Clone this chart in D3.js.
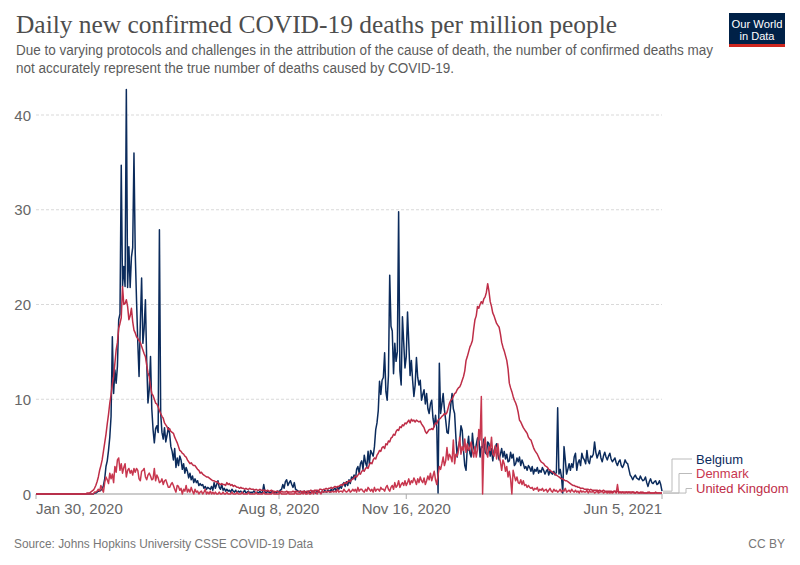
<!DOCTYPE html>
<html><head><meta charset="utf-8">
<script src="https://cdn.jsdelivr.net/npm/d3@7"></script>
<style>body{margin:0;background:#fff}svg{display:block}</style>
</head><body>
<svg id="chart" width="800" height="565"></svg>
<script>
// ---------- DATA ----------
const startDate = "2020-01-30"; // first day of every series, one value per day
const seriesNames = ["Belgium", "Denmark", "United Kingdom"];
const seriesColors = ["#0b2b5c", "#c8374f", "#be2d47"];
const yTicks = [0, 10, 20, 30, 40];
const xTickDates = ["2020-01-30", "2020-08-08", "2020-11-16", "2021-06-05"];
const xTickLabels = ["Jan 30, 2020", "Aug 8, 2020", "Nov 16, 2020", "Jun 5, 2021"];

const belgium = [
0,0,0,0,0,0,0,0,0,0,
0,0,0,0,0,0,0,0,0,0,
0,0,0,0,0,0,0,0,0,0,
0,0,0,0,0,0,0,0,0,0,
0,0,0,0,0,0,0.1,0.1,0.2,0.3,
0.3,0.4,0.5,0.9,1.6,2.9,3.5,4.6,6.0,8.2,
16.6,10.6,13.1,11.7,13.5,18.4,19.0,34.7,21.9,24.0,
21.9,42.7,21.8,26.1,21.8,25.0,26.0,36.0,25.4,20.5,
16.0,12.4,18.0,22.8,15.9,17.5,20.5,14.0,9.6,11.0,
14.5,9.0,6.8,5.4,6.9,7.2,6.5,27.9,8.5,6.5,
5.8,7.0,5.5,6.2,7.0,6.4,5.0,4.5,3.6,4.8,
2.8,3.8,3.0,4.0,3.6,2.6,3.2,2.2,2.8,2.4,
1.7,2.2,1.5,1.9,1.2,1.6,1.2,1.4,0.9,1.1,
0.9,1.0,0.6,0.8,0.5,0.7,0.6,0.5,0.8,0.4,
1.2,0.6,1.0,1.4,0.7,0.5,1.0,0.4,0.6,0.3,
0.5,0.3,0.4,0.2,0.5,0.3,0.2,0.4,0.1,0.3,
0.2,0.3,0.1,0.2,0.4,0.1,0.2,0.3,0.1,0.2,
0.1,0.3,0.2,0.1,0.2,0.1,0.3,0.1,0.2,1.0,
0.2,0.1,0.3,0.2,0.1,0.2,0.3,0.1,0.2,0.1,
0.3,0.2,0.4,0.5,1.0,0.6,1.3,1.5,0.9,1.2,
1.4,1.0,0.7,1.2,0.5,0.4,0.3,0.2,0.3,0.1,
0.2,0.3,0.1,0.2,0.3,0.2,0.1,0.3,0.2,0.2,
0.1,0.3,0.2,0.2,0.1,0.3,0.2,0.4,0.2,0.3,
0.4,0.2,0.5,0.3,0.5,0.6,0.3,0.7,0.5,0.8,
0.6,1.0,1.2,0.8,1.3,0.9,1.5,1.1,1.8,1.6,
2.0,1.5,2.6,2.9,2.2,3.2,3.5,2.6,4.1,3.3,
2.9,4.5,3.2,4.6,4.3,4.0,5.0,6.8,7.5,8.8,
11.9,10.5,12.0,12.3,14.9,10.8,9.9,12.5,23.1,17.7,
17.2,12.7,15.9,14.0,15.0,29.8,13.0,11.5,18.7,16.0,
13.3,14.5,19.2,15.9,12.5,14.1,12.0,10.3,11.5,14.4,
12.3,11.5,12.0,9.9,10.5,11.0,9.5,10.6,9.0,8.5,
9.5,9.9,8.0,7.1,8.3,7.0,0.1,13.8,8.5,9.5,
10.6,8.9,7.8,6.5,6.4,8.0,9.4,10.6,9.0,8.5,
6.0,3.9,5.0,5.6,7.2,6.7,4.6,3.0,2.5,5.0,
6.1,4.3,3.9,6.4,4.9,4.3,5.2,5.9,6.0,3.9,
5.0,4.9,5.8,4.4,4.2,5.5,5.3,4.0,4.8,3.5,
4.6,5.0,5.3,4.2,3.6,4.2,4.8,3.9,4.5,3.7,
4.2,3.4,3.5,4.4,3.8,4.2,3.0,3.2,3.8,3.4,
3.9,3.0,3.6,3.2,2.7,2.9,2.5,3.0,2.8,2.4,
2.9,2.1,2.6,2.4,2.8,2.2,2.5,2.3,2.8,2.5,
2.1,2.4,2.6,2.0,2.5,2.2,2.1,2.4,2.0,2.3,
9.1,2.1,2.6,1.8,0.1,5.0,3.6,2.1,2.6,3.2,
2.5,3.2,2.8,3.9,4.3,2.5,3.3,3.6,3.0,4.3,
3.8,3.6,3.2,4.6,3.5,3.2,4.0,3.9,4.2,5.5,
4.4,3.8,4.2,4.6,3.8,3.4,4.0,4.4,3.9,3.6,
4.0,4.3,3.7,3.4,3.6,3.8,3.3,3.0,3.4,3.6,
3.0,2.8,3.1,3.6,3.3,3.2,2.6,2.0,1.8,1.5,
1.8,2.0,1.7,1.6,1.5,1.9,1.6,1.4,1.5,1.8,
1.2,0.8,1.3,1.6,1.2,1.1,1.3,1.4,1.0,1.1,
1.4,1.0,0.3
];

const denmark = [
0,0,0,0,0,0,0,0,0,0,
0,0,0,0,0,0,0,0,0,0,
0,0,0,0,0,0,0,0,0,0,
0,0,0,0,0,0,0,0,0,0,
0,0,0,0,0,0,0.2,0.2,0.3,0.5,
0.3,0.9,0.5,0.2,1.2,1.8,1.5,1.1,2.2,1.6,
2.1,1.2,2.9,2.3,3.6,3.8,2.5,3.2,2.2,2.8,
3.2,1.8,2.5,2.7,2.2,2.5,2.0,2.7,2.3,2.7,
2.5,1.6,1.4,2.4,2.5,2.7,1.8,1.5,2.0,2.2,
1.9,1.5,1.6,2.7,1.4,2.0,1.7,1.2,1.3,1.6,
1.0,1.4,1.5,1.1,0.7,0.7,1.0,1.2,0.9,0.5,
0.2,0.9,0.8,0.4,0.6,0,0.5,0.3,0.9,0.2,
0.5,0.2,0.7,0.3,0,0.5,0.2,0.3,0,0.2,
0.3,0,0.2,0.5,0,0.2,0,0.3,0,0.2,
0,0.2,0,0,0.2,0,0,0.2,0,0,
0.2,0,0,0,0.2,0,0,0,0.2,0,
0,0,0.2,0,0,0,0,0.2,0,0,
0,0,0,0.2,0,0,0,0,0,0.2,
0,0,0,0,0,0,0.2,0,0,0,
0,0,0.2,0,0,0,0,0,0.2,0,
0,0,0,0,0.2,0,0,0,0,0.2,
0,0.2,0,0,0.2,0,0,0.3,0,0.2,
0.2,0,0.3,0.2,0,0.3,0.2,0.2,0.3,0.2,
0.3,0.2,0.2,0.3,0.2,0.3,0.2,0.5,0.2,0.3,
0.3,0.2,0.5,0.3,0.2,0.3,0.5,0.2,0.3,0.5,
0.3,0.5,0.2,0.7,0.3,0.5,0.5,0.3,0.2,0.5,
0.3,0.7,0.5,0.3,0.5,0.2,0.7,0.3,0.5,0.5,
0.3,0.7,0.5,0.5,0.3,0.7,0.9,0.5,0.3,0.7,
0.9,0.5,1.2,0.7,0.9,1.4,0.7,1.0,1.2,0.9,
1.4,0.9,1.2,1.6,1.0,1.4,1.2,1.7,1.4,1.0,
1.6,1.2,1.8,1.4,1.2,1.7,1.0,1.4,1.9,1.5,
2.2,1.4,1.9,2.4,1.5,1.0,2.0,2.9,2.6,3.2,
3.9,3.0,3.5,4.9,3.6,4.2,3.9,3.4,5.7,3.2,
4.2,4.0,4.6,6.0,4.2,5.0,4.6,5.8,4.4,5.3,
4.6,4.9,5.5,4.5,3.9,5.0,3.9,4.7,6.8,5.7,
10.3,0,5.2,6.0,4.4,3.9,5.0,4.6,6.0,4.2,
4.0,5.1,3.7,5.3,4.0,3.4,2.5,3.6,3.2,2.4,
2.9,1.8,2.4,1.6,0,2.5,1.9,1.4,1.8,1.2,
1.1,1.5,1.0,1.4,0.9,1.0,0.7,0.9,0.7,0.6,
0.7,0.4,0.6,0.5,0.7,0.3,0.5,0.4,0.6,0.3,
0.4,0.5,0.2,0.4,0.6,0.3,0.2,0.5,0.3,0.4,
0.2,0.3,0.5,0.2,0.4,0.3,0.6,0.2,0.3,0.4,
0.2,0.5,0.3,0.2,0.4,0.2,0.3,0.1,0.4,0.2,
0.3,0.2,0.2,0.4,0.1,0.3,0.2,0.2,0.3,0.1,
0.2,0.3,0.1,0.2,0.2,0.3,0.1,0.2,0.2,0.1,
0.2,0.1,0.2,0.1,0.2,0.3,0.1,1.0,0.1,0.2,
0.1,0.2,0.1,0.1,0.2,0.1,0.2,0.1,0.1,0.2,
0.1,0.1,0.2,0.1,0.1,0.1,0.2,0.1,0.1,0.1,
0.1,0.2,0.1,0.1,0.1,0.1,0.1,0.1,0.1,0.1,
0.1,0.1,0.1
];

const unitedKingdom = [
0,0,0,0,0,0,0,0,0,0,
0,0,0,0,0,0,0,0,0,0,
0,0,0,0,0,0,0,0,0,0,
0,0,0,0,0,0,0,0,0,0,
0.1,0.1,0.1,0.2,0.3,0.4,0.6,0.9,1.3,1.8,
2.5,3.0,3.6,4.5,5.4,6.3,7.4,8.4,9.6,10.5,
11.6,12.4,13.8,15.2,16.0,17.5,18.0,18.6,21.9,20.0,
20.1,20.5,19.8,18.4,18.8,19.6,18.2,17.3,17.0,16.6,
16.4,16.2,16.0,15.6,15.2,14.8,14.5,13.6,12.8,12.4,
11.4,10.6,10.4,10.0,9.6,9.5,9.2,8.8,8.5,8.2,
8.0,7.5,7.3,7.1,6.8,6.9,6.6,6.5,6.4,6.0,
5.7,5.4,5.0,4.6,4.5,4.3,4.2,4.0,3.9,3.6,
3.4,3.2,3.3,3.1,3.0,3.0,2.8,2.6,2.5,2.2,
2.3,2.1,2.0,1.9,1.8,1.8,1.7,1.6,1.5,1.4,
1.4,1.3,1.3,1.2,1.1,1.0,1.1,1.0,1.0,0.9,
1.2,1.0,1.1,0.9,1.0,0.8,0.9,0.8,0.7,0.7,
0.6,0.7,0.6,0.6,0.5,0.6,0.5,0.5,0.6,0.5,
0.5,0.5,0.4,0.5,0.4,0.4,0.5,0.4,0.4,0.4,
0.4,0.3,0.4,0.3,0.3,0.4,0.3,0.3,0.2,0.3,
0.3,0.2,0.2,0.3,0.2,0.2,0.2,0.3,0.2,0.2,
0.2,0.2,0.3,0.2,0.3,0.3,0.2,0.3,0.3,0.2,
0.3,0.3,0.2,0.3,0.3,0.3,0.4,0.3,0.3,0.4,
0.4,0.4,0.3,0.5,0.5,0.4,0.5,0.5,0.6,0.5,
0.6,0.6,0.7,0.6,0.7,0.8,0.7,0.8,0.8,0.9,
1.0,0.9,1.1,1.2,1.1,1.3,1.4,1.3,1.5,1.6,
1.7,1.9,1.8,2.0,2.2,2.1,2.4,2.5,2.4,2.7,
2.8,2.7,3.1,3.3,3.2,3.6,3.8,3.7,4.1,4.3,
4.6,4.5,4.9,5.0,4.8,5.3,5.2,5.6,5.5,5.9,
6.0,6.3,6.2,6.6,6.8,6.7,7.1,7.0,7.3,7.2,
7.5,7.4,7.6,7.8,7.5,7.9,7.7,7.8,7.6,7.8,
7.7,7.6,7.7,7.4,7.2,7.0,6.6,6.4,6.6,6.8,
6.8,6.9,6.8,7.2,7.5,7.4,7.8,7.9,8.0,8.2,
8.3,8.5,8.4,8.6,9.1,9.6,9.9,10.0,10.3,10.6,
10.7,11.0,11.2,11.3,11.6,12.0,12.4,13.0,14.1,14.5,
15.0,15.5,15.8,16.2,17.4,18.4,18.8,19.8,19.6,20.0,
20.3,20.1,20.6,20.8,21.3,22.2,21.4,20.3,19.8,19.1,
18.8,18.4,18.0,17.8,17.6,16.9,16.0,15.5,15.1,14.6,
14.1,13.2,11.7,11.2,10.8,10.3,9.9,9.6,9.2,8.6,
7.8,7.6,7.3,7.0,6.8,6.6,6.4,6.0,5.8,5.7,
5.3,4.9,4.6,4.4,4.2,3.9,3.6,3.4,3.3,3.2,
3.0,2.9,2.8,2.6,2.5,2.4,2.3,2.2,2.1,2.0,
1.9,1.8,1.7,1.6,1.6,1.5,1.4,1.4,1.3,1.2,
1.1,1.0,0.9,0.9,0.8,0.8,0.7,0.7,0.6,0.6,
0.6,0.5,0.5,0.5,0.5,0.4,0.5,0.4,0.4,0.4,
0.4,0.4,0.3,0.4,0.3,0.3,0.4,0.3,0.3,0.3,
0.3,0.3,0.3,0.2,0.3,0.3,0.2,0.3,0.2,0.2,
0.2,0.2,0.2,0.2,0.2,0.2,0.2,0.2,0.2,0.2,
0.2,0.1,0.2,0.2,0.1,0.2,0.1,0.2,0.1,0.1,
0.1,0.1,0.2,0.1,0.1,0.1,0.1,0.2,0.1,0.1,
0.1,0.1,0.1
];

const titleText = "Daily new confirmed COVID-19 deaths per million people";
const subtitleLines = [
  "Due to varying protocols and challenges in the attribution of the cause of death, the number of confirmed deaths may",
  "not accurately represent the true number of deaths caused by COVID-19."
];
const sourceText = "Source: Johns Hopkins University CSSE COVID-19 Data";

// ---------- DRAW ----------
const svg = d3.select("#chart");
const parse = d3.utcParse("%Y-%m-%d");
const t0 = parse(startDate);
const sans = "'Liberation Sans', Arial, sans-serif";

const x = d3.scaleUtc()
  .domain([parse(xTickDates[0]), parse(xTickDates[xTickDates.length - 1])])
  .range([36, 662]);
const y = d3.scaleLinear().domain([0, 40]).range([494, 115]);

// title
svg.append("text").attr("x", 16).attr("y", 33)
  .attr("font-family", "'Liberation Serif', 'Times New Roman', serif")
  .attr("font-size", 25).attr("fill", "#4d4d4d")
  .attr("textLength", 601).attr("lengthAdjust", "spacingAndGlyphs")
  .text(titleText);

// subtitle
const subs = subtitleLines.map((s, i) => svg.append("text")
  .attr("x", 16).attr("y", 55 + i * 18)
  .attr("font-family", sans).attr("font-size", 14).attr("fill", "#5b5b5b")
  .text(s));
const n1 = subs[0].node().getComputedTextLength();
const sx = 697 / n1;
subs.forEach(s => {
  const n = s.node().getComputedTextLength();
  s.attr("textLength", n * sx).attr("lengthAdjust", "spacingAndGlyphs");
});

// logo
const logo = svg.append("g");
logo.append("rect").attr("x", 729).attr("y", 13).attr("width", 56).attr("height", 34).attr("fill", "#002147");
logo.append("rect").attr("x", 729).attr("y", 44).attr("width", 56).attr("height", 3).attr("fill", "#ce261e");
logo.append("text").attr("x", 757).attr("y", 27.5).attr("text-anchor", "middle")
  .attr("font-family", sans).attr("font-size", 10.5).attr("fill", "#fff")
  .attr("textLength", 51).attr("lengthAdjust", "spacingAndGlyphs").text("Our World");
logo.append("text").attr("x", 757).attr("y", 40).attr("text-anchor", "middle")
  .attr("font-family", sans).attr("font-size", 10.5).attr("fill", "#fff")
  .attr("textLength", 35).attr("lengthAdjust", "spacingAndGlyphs").text("in Data");

// gridlines
svg.append("g").selectAll("line").data(yTicks.filter(v => v > 0)).join("line")
  .attr("x1", 36).attr("x2", 662)
  .attr("y1", d => y(d)).attr("y2", d => y(d))
  .attr("stroke", "#d9d9d9").attr("stroke-dasharray", "3,2");

// y labels
svg.append("g").selectAll("text").data(yTicks).join("text")
  .attr("x", 31).attr("y", d => y(d) + 5.5).attr("text-anchor", "end")
  .attr("font-family", sans).attr("font-size", 15).attr("fill", "#666")
  .text(d => d);

// x axis baseline and ticks
svg.append("line").attr("x1", 36).attr("x2", 662).attr("y1", 494).attr("y2", 494)
  .attr("stroke", "#bbb").attr("stroke-width", 1.5);
const xt = xTickDates.map(parse);
svg.append("g").selectAll("line").data(xt).join("line")
  .attr("x1", d => x(d)).attr("x2", d => x(d)).attr("y1", 494).attr("y2", 499)
  .attr("stroke", "#aaa");
svg.append("g").selectAll("text").data(xt).join("text")
  .attr("x", d => x(d)).attr("y", 514)
  .attr("text-anchor", (d, i) => i === 0 ? "start" : (i === xt.length - 1 ? "end" : "middle"))
  .attr("font-family", sans).attr("font-size", 15).attr("fill", "#666")
  .text((d, i) => xTickLabels[i]);

// series
const allSeries = [belgium, denmark, unitedKingdom];
const line = d3.line()
  .x((v, i) => x(d3.utcDay.offset(t0, i)))
  .y(v => y(v));
allSeries.forEach((vals, k) => {
  svg.append("path").datum(vals)
    .attr("fill", "none").attr("stroke", seriesColors[k])
    .attr("stroke-width", 1.5).attr("stroke-linejoin", "round")
    .attr("d", line);
});

// legend with connectors
const labelY = [459, 473.5, 488.5];
const elbowX = [672, 679, 686];
allSeries.forEach((vals, k) => {
  const last = vals.length - 1;
  const x0 = x(d3.utcDay.offset(t0, last)) + 1;
  const y0 = y(vals[last]);
  svg.append("path")
    .attr("d", `M${x0},${y0}H${elbowX[k]}V${labelY[k]}H692`)
    .attr("fill", "none").attr("stroke", "#bbb").attr("stroke-width", 1);
  svg.append("text").attr("x", 696).attr("y", labelY[k] + 4.5)
    .attr("font-family", sans).attr("font-size", 13).attr("fill", seriesColors[k])
    .text(seriesNames[k]);
});

// footer
svg.append("text").attr("x", 14).attr("y", 548)
  .attr("font-family", sans).attr("font-size", 12).attr("fill", "#777")
  .attr("textLength", 299).attr("lengthAdjust", "spacingAndGlyphs")
  .text(sourceText);
svg.append("text").attr("x", 785).attr("y", 548).attr("text-anchor", "end")
  .attr("font-family", sans).attr("font-size", 12).attr("fill", "#777")
  .text("CC BY");
</script>
</body></html>
